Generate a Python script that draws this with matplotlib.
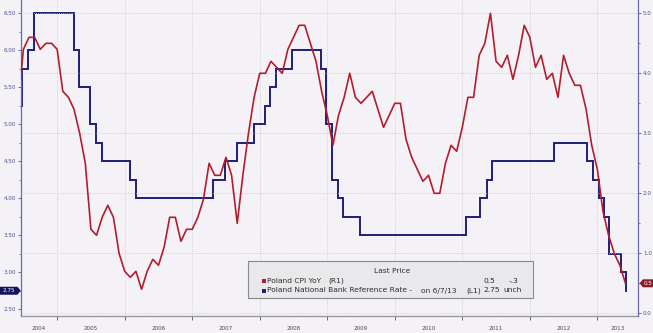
"""Poland CPI YoY vs NBP reference rate, Bloomberg-style chart."""

import numpy as np
import pandas as pd
import matplotlib.pyplot as plt
from matplotlib.patches import Polygon, Rectangle
from matplotlib.transforms import IdentityTransform

# ---- data ---------------------------------------------------------------
# Poland CPI YoY (%), monthly, May 2004 .. May 2013 (right axis)
cpi_start = "2004-05"
cpi_values = [
    3.4, 4.4, 4.6, 4.6, 4.4, 4.5, 4.5, 4.4,                        # 2004
    3.7, 3.6, 3.4, 3.0, 2.5, 1.4, 1.3, 1.6, 1.8, 1.6, 1.0, 0.7,    # 2005
    0.6, 0.7, 0.4, 0.7, 0.9, 0.8, 1.1, 1.6, 1.6, 1.2, 1.4, 1.4,    # 2006
    1.6, 1.9, 2.5, 2.3, 2.3, 2.6, 2.3, 1.5, 2.3, 3.0, 3.6, 4.0,    # 2007
    4.0, 4.2, 4.1, 4.0, 4.4, 4.6, 4.8, 4.8, 4.5, 4.2, 3.7, 3.3,    # 2008
    2.8, 3.3, 3.6, 4.0, 3.6, 3.5, 3.6, 3.7, 3.4, 3.1, 3.3, 3.5,    # 2009
    3.5, 2.9, 2.6, 2.4, 2.2, 2.3, 2.0, 2.0, 2.5, 2.8, 2.7, 3.1,    # 2010
    3.6, 3.6, 4.3, 4.5, 5.0, 4.2, 4.1, 4.3, 3.9, 4.3, 4.8, 4.6,    # 2011
    4.1, 4.3, 3.9, 4.0, 3.6, 4.3, 4.0, 3.8, 3.8, 3.4, 2.8, 2.4,    # 2012
    1.7, 1.3, 1.0, 0.8, 0.5,                                       # 2013
]

# NBP reference rate (%), value in force from each date (left axis)
rate_dates = [
    "2004-06-01", "2004-06-24", "2004-07-29", "2004-08-26",
    "2005-03-31", "2005-04-28", "2005-06-30", "2005-07-28", "2005-09-01",
    "2006-02-01", "2006-03-01",
    "2007-04-26", "2007-06-28", "2007-08-30", "2007-11-29",
    "2008-01-31", "2008-02-28", "2008-03-27", "2008-06-26",
    "2008-11-27", "2008-12-24",
    "2009-01-28", "2009-02-26", "2009-03-26", "2009-06-25",
    "2011-01-20", "2011-04-06", "2011-05-12", "2011-06-09",
    "2012-05-10", "2012-11-08", "2012-12-06",
    "2013-01-10", "2013-02-07", "2013-03-07", "2013-05-09", "2013-06-06",
    "2013-06-07",
]
rate_values = [
    5.25, 5.75, 6.00, 6.50,
    6.00, 5.50, 5.00, 4.75, 4.50,
    4.25, 4.00,
    4.25, 4.50, 4.75, 5.00,
    5.25, 5.50, 5.75, 6.00,
    5.75, 5.00,
    4.25, 4.00, 3.75, 3.50,
    3.75, 4.00, 4.25, 4.50,
    4.75, 4.50, 4.25,
    4.00, 3.75, 3.25, 3.00, 2.75,
    2.75,
]

years = list(range(2004, 2014))
last_date = "6/7/13"

# ---- styling ------------------------------------------------------------
BG = "#f5f2f7"
RED = "#b01e2e"
NAVY = "#1f1f78"
AXIS_BLUE = "#6a6aaa"
TICK_BLUE = "#50508e"
GRID = "#c9c6cc"
W, H = 653, 333

plt.rcParams["font.family"] = ["DejaVu Sans"]


def decimal_year(dates):
    d = pd.to_datetime(dates)
    days = np.where(d.is_leap_year, 366.0, 365.0)
    return np.asarray(d.year + (d.dayofyear - 1) / days)


def px(x, y):
    """Pixel position (from top-left) to figure fraction."""
    return x / W, 1 - y / H


months = pd.period_range(cpi_start, periods=len(cpi_values), freq="M")
cpi_t = np.asarray(months.year + months.month / 12.0)  # month end
rate_t = decimal_year(rate_dates)

fig = plt.figure(figsize=(W / 100, H / 100), dpi=100, facecolor=BG)
ax = fig.add_axes([20.7 / W, 1 - 315.7 / H, (638 - 20.7) / W, 315.7 / H])
ax.set_facecolor(BG)
ax2 = ax.twinx()
ax2.patch.set_visible(False)

xmin, xmax = 2004.46, 2013.602
ax.set_xlim(xmin, xmax)
ax.set_ylim(2.413, 6.6755)
ax2.set_ylim(-0.04, 5.222)

# lines
ax.plot(rate_t, rate_values, drawstyle="steps-post", color=NAVY, lw=1.4,
        solid_joinstyle="miter")
ax2.plot(cpi_t, cpi_values, color=RED, lw=1.2)

# x axis: ticks at year boundaries, labels centred in each visible year
ax.set_xticks(years[1:])
ax.set_xticklabels([])
lab_pos = [(max(y, xmin) + min(y + 1, xmax)) / 2 for y in years]
ax.set_xticks(lab_pos, minor=True)
ax.set_xticklabels([str(y) for y in years], minor=True)
ax.tick_params(axis="x", which="major", length=3, width=0.7,
               color="#666666", direction="out")
ax.tick_params(axis="x", which="minor", length=0, pad=7.5,
               labelsize=4.1, labelcolor="#4a4a4a")
ax.xaxis.grid(True, which="major", color=GRID, lw=0.6, ls=(0, (1, 1.5)))

# left axis
ax.set_yticks(np.arange(2.5, 6.51, 0.5))
ax.set_yticklabels([f"{v:.2f}" for v in np.arange(2.5, 6.51, 0.5)])
ax.set_yticks(np.arange(2.75, 6.5, 0.5), minor=True)
ax.tick_params(axis="y", which="major", length=2.5, width=0.7,
               color=AXIS_BLUE, labelsize=4.1, labelcolor=TICK_BLUE, pad=1.2)
ax.tick_params(axis="y", which="minor", length=1.5, width=0.6,
               color=AXIS_BLUE)

# right axis
ax2.set_yticks(np.arange(0, 5.01, 1.0))
ax2.set_yticklabels([f"{v:.1f}" for v in np.arange(0, 5.01, 1.0)])
ax2.set_yticks(np.arange(0.5, 5.0, 1.0), minor=True)
ax2.tick_params(axis="y", which="major", length=2.5, width=0.7,
                color=AXIS_BLUE, labelsize=4.1, labelcolor=TICK_BLUE, pad=1)
ax2.tick_params(axis="y", which="minor", length=1.5, width=0.6,
                color=AXIS_BLUE)
ax2.yaxis.grid(True, color=GRID, lw=0.6, ls=(0, (1, 1.5)))

for s in ("top", "right"):
    ax.spines[s].set_visible(False)
for s in ("top", "left", "bottom"):
    ax2.spines[s].set_visible(False)
ax.spines["left"].set_color(AXIS_BLUE)
ax.spines["left"].set_linewidth(0.9)
ax.spines["bottom"].set_color("#9a9a9a")
ax.spines["bottom"].set_linewidth(1.0)
ax2.spines["right"].set_color(AXIS_BLUE)
ax2.spines["right"].set_linewidth(0.9)


# last-value badges on the axes
def badge(axis, value, text, color, side):
    _, yd = axis.transData.transform((0, value))
    if side == "left":
        pts = [(0, yd - 4), (17.5, yd - 4), (20.7, yd), (17.5, yd + 4),
               (0, yd + 4)]
        tx = 9
    else:
        pts = [(639.5, yd), (643, yd - 4), (W, yd - 4), (W, yd + 4),
               (643, yd + 4)]
        tx = 647.5
    fig.add_artist(Polygon(pts, closed=True, transform=IdentityTransform(),
                           fc=color, ec="none"))
    fig.text(tx / W, yd / H, text, ha="center", va="center",
             color="white", fontsize=4.1)


badge(ax, rate_values[-1], f"{rate_values[-1]:.2f}", "#14145e", "left")
badge(ax2, cpi_values[-1], f"{cpi_values[-1]:.1f}", "#8e1b2b", "right")

# legend box
x0, y0 = px(248, 298)
x1, y1 = px(533, 261)
fig.add_artist(Rectangle((x0, y0), x1 - x0, y1 - y0,
                         transform=fig.transFigure, fc="#e9e8ea",
                         ec="#8a8a8a", lw=0.8))
txt = dict(fontsize=5.4, color="#2e2e2e", va="center")
fig.text(*px(392, 270.7), "Last Price", ha="center", **txt)

cpi_chg = cpi_values[-1] - cpi_values[-2]
rows = [
    (281.0, RED, [("Poland CPI YoY", 267, "left"), ("(R1)", 328, "left"),
                  (f"{cpi_values[-1]:.1f}", 495, "right"),
                  (f"{cpi_chg:.1f}".replace("0.", "."), 518.5, "right")]),
    (290.5, NAVY, [("Poland National Bank Reference Rate -", 267, "left"),
                   (f"on {last_date}", 421, "left"),
                   ("(L1)", 466, "left"),
                   (f"{rate_values[-1]:.2f}", 500, "right"),
                   ("unch", 503, "left")]),
]
for yrow, col, parts in rows:
    sx, sy = px(261.5, yrow + 2)
    fig.add_artist(Rectangle((sx, sy), 4 / W, 4 / H,
                             transform=fig.transFigure, fc=col, ec="none"))
    for s, xpos, ha in parts:
        fig.text(*px(xpos, yrow), s, ha=ha, **txt)

fig.savefig("out.png", dpi=100, facecolor=BG)
